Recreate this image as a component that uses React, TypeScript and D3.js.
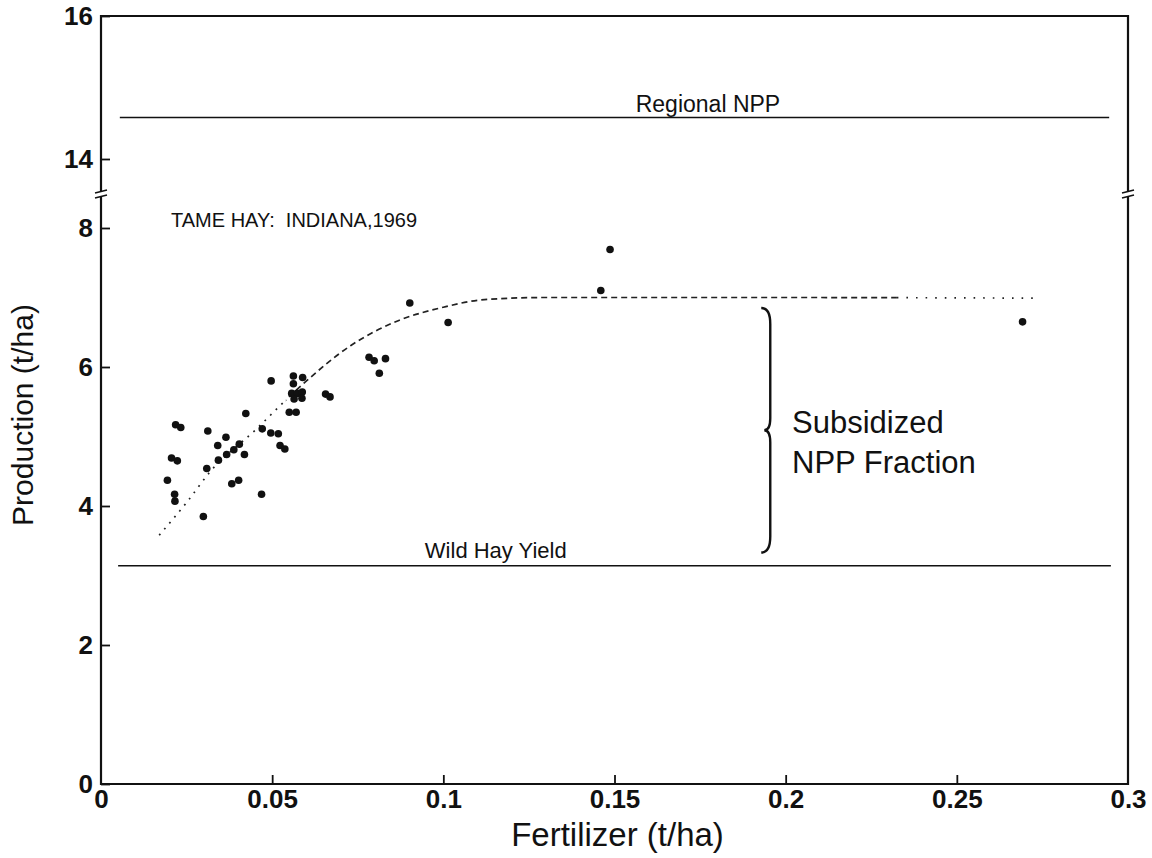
import * as d3 from "d3";
import { useEffect, useRef } from "react";

// --- data ---
const fertilizer = [
  0.0902, 0.1014, 0.0783, 0.0798, 0.0831, 0.0813, 0.0656, 0.0669, 0.0497, 0.0562,
  0.0589, 0.0562, 0.0557, 0.0573, 0.0588, 0.0564, 0.0587, 0.055, 0.057, 0.0423,
  0.0471, 0.0496, 0.0518, 0.0523, 0.0537, 0.0218, 0.0233, 0.0312, 0.0365, 0.0341,
  0.0404, 0.0388, 0.0367, 0.0419, 0.0343, 0.0206, 0.0223, 0.0309, 0.0194, 0.0382,
  0.0402, 0.0215, 0.0216, 0.0469, 0.0299, 0.146, 0.1487, 0.2692,
];
const production = [
  6.92, 6.64, 6.14, 6.09, 6.12, 5.91, 5.61, 5.57, 5.8, 5.87,
  5.85, 5.76, 5.62, 5.62, 5.64, 5.54, 5.55, 5.35, 5.35, 5.33,
  5.11, 5.05, 5.04, 4.87, 4.82, 5.17, 5.13, 5.08, 4.99, 4.87,
  4.89, 4.81, 4.74, 4.74, 4.66, 4.69, 4.65, 4.54, 4.37, 4.32,
  4.37, 4.17, 4.07, 4.17, 3.85, 7.1, 7.69, 6.65,
];

// fitted response curve (hand traced)
const curveX = [0.017, 0.025, 0.032, 0.045, 0.058, 0.073, 0.087, 0.1, 0.112, 0.13, 0.2, 0.274];
const curveY = [3.58, 4.05, 4.5, 5.09, 5.71, 6.31, 6.67, 6.86, 6.97, 7.0, 7.0, 6.99];

const xTicks = [0, 0.05, 0.1, 0.15, 0.2, 0.25, 0.3];
const yTicksLow = [0, 2, 4, 6, 8];
const yTicksHigh = [14, 16];

const regionalNPP = 14.58;
const wildHayYield = 3.14;

const FONT = "'Liberation Sans', Arial, Helvetica, sans-serif";

const App = () => {
  const axesRef = useRef(null);

  const width = 1152;
  const height = 858;
  const left = 101;
  const right = 1128;
  const top = 16;
  const bottom = 784;

  const x = d3.scaleLinear().domain([0, 0.3]).range([left, right]);
  const yLow = d3.scaleLinear().domain([0, 8]).range([bottom, 228]);
  const yHigh = d3.scaleLinear().domain([14, 16]).range([159, top]);
  const breakY = 194; // where the y axis is cut

  useEffect(() => {
    if (!axesRef.current) return;
    const g = d3.select(axesRef.current);
    g.selectAll("*").remove();

    const fmt = (d) => String(d);

    const styleAxis = (sel) => {
      sel.select(".domain").remove();
      sel.selectAll(".tick line").attr("stroke", "#111").attr("stroke-width", 1.8);
      sel
        .selectAll(".tick text")
        .attr("fill", "#111")
        .attr("font-family", FONT)
        .attr("font-size", 26)
        .attr("font-weight", 700);
    };

    g.append("g")
      .attr("transform", `translate(${left},0)`)
      .call(d3.axisLeft(yLow).tickValues(yTicksLow).tickSize(-9).tickPadding(8).tickFormat(fmt))
      .call(styleAxis);

    g.append("g")
      .attr("transform", `translate(${left},0)`)
      .call(d3.axisLeft(yHigh).tickValues(yTicksHigh).tickSize(-9).tickPadding(8).tickFormat(fmt))
      .call(styleAxis);

    g.append("g")
      .attr("transform", `translate(0,${bottom})`)
      .call(d3.axisBottom(x).tickValues(xTicks).tickSize(-9).tickPadding(6).tickFormat(fmt))
      .call(styleAxis)
      .call((s) => s.selectAll(".tick").filter((d) => d === 0 || d === 0.3).select("line").remove());
  }, []);

  const line = d3
    .line()
    .x((d) => x(d[0]))
    .y((d) => yLow(d[1]))
    .curve(d3.curveMonotoneX);
  const curvePath = line(curveX.map((v, i) => [v, curveY[i]]));

  // frame with cuts for the axis break
  const frame = [
    `M${left},${breakY + 3}V${bottom}H${right}V${breakY + 3}`,
    `M${right},${breakY - 3}V${top}H${left}V${breakY - 3}`,
  ].join("");

  const breakMark = (cx) => (
    <g stroke="#111" strokeWidth={1.6}>
      <line x1={cx - 6} y1={breakY - 1} x2={cx + 6} y2={breakY - 4} />
      <line x1={cx - 6} y1={breakY + 4} x2={cx + 6} y2={breakY + 1} />
    </g>
  );

  // brace for the subsidized fraction
  const bx = x(0.1955);
  const bTop = yLow(6.85);
  const bBot = yLow(3.33);
  const bMid = (bTop + bBot) / 2;
  const brace = `M${bx - 9},${bTop} Q${bx},${bTop} ${bx},${bTop + 16} L${bx},${bMid - 12} Q${bx},${bMid} ${bx - 6},${bMid} Q${bx},${bMid} ${bx},${bMid + 12} L${bx},${bBot - 16} Q${bx},${bBot} ${bx - 9},${bBot}`;

  const segs = [
    { id: "segA", from: 0, to: 0.054, dash: "1.8,6" },
    { id: "segB", from: 0.054, to: 0.2325, dash: "6,4" },
    { id: "segC", from: 0.2325, to: 0.3, dash: "1.6,8" },
  ];

  return (
    <svg
      width={width}
      height={height}
      style={{ position: "absolute", left: 0, top: 0, background: "#fff" }}
      fontFamily={FONT}
    >
      <defs>
        {segs.map((s) => (
          <clipPath id={s.id} key={s.id}>
            <rect x={x(s.from)} y={0} width={x(s.to) - x(s.from)} height={height} />
          </clipPath>
        ))}
      </defs>

      <path d={frame} fill="none" stroke="#111" strokeWidth={2.2} />
      {breakMark(left)}
      {breakMark(right)}
      <g ref={axesRef} />

      {/* reference lines */}
      <line x1={x(0.0055)} x2={x(0.2945)} y1={yHigh(regionalNPP)} y2={yHigh(regionalNPP)} stroke="#111" strokeWidth={1.6} />
      <text x={x(0.1773)} y={yHigh(regionalNPP) - 6} textAnchor="middle" fontSize={23} fill="#111">
        Regional NPP
      </text>
      <line x1={x(0.005)} x2={x(0.295)} y1={yLow(wildHayYield)} y2={yLow(wildHayYield)} stroke="#111" strokeWidth={1.6} />
      <text x={x(0.0946)} y={yLow(wildHayYield) - 8} fontSize={22} fill="#111">
        Wild Hay Yield
      </text>

      {/* fitted curve */}
      {segs.map((s) => (
        <path
          key={s.id}
          d={curvePath}
          clipPath={`url(#${s.id})`}
          fill="none"
          stroke="#222"
          strokeWidth={1.7}
          strokeDasharray={s.dash}
        />
      ))}

      {/* observations */}
      {fertilizer.map((f, i) => (
        <circle key={i} cx={x(f)} cy={yLow(production[i])} r={3.8} fill="#111" />
      ))}

      <path d={brace} fill="none" stroke="#111" strokeWidth={2.4} />
      <text x={792} y={yLow(5.09) + 3} fontSize={31} fill="#111">
        Subsidized
      </text>
      <text x={792} y={yLow(5.09) + 43} fontSize={31} fill="#111">
        NPP Fraction
      </text>

      <text x={171} y={yLow(8) - 1} fontSize={20} fill="#111" xmlSpace="preserve">
        TAME HAY:  INDIANA,1969
      </text>

      {/* axis titles */}
      <text x={(left + right) / 2 + 3} y={846} textAnchor="middle" fontSize={33} fill="#111">
        Fertilizer (t/ha)
      </text>
      <text
        transform={`translate(33,${(yLow(0) + yHigh(16)) / 2 + 15}) rotate(-90)`}
        textAnchor="middle"
        fontSize={30}
        fill="#111"
      >
        Production (t/ha)
      </text>
    </svg>
  );
};

export default App;
